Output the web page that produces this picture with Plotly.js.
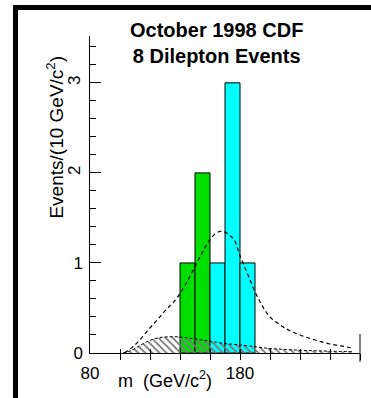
<!DOCTYPE html>
<html>
<head>
<meta charset="utf-8">
<script src="https://cdn.plot.ly/plotly-3.0.1.min.js"></script>
<style>
  html, body { margin: 0; padding: 0; background: #fff; overflow: hidden; }
  #chart { position: absolute; left: 0; top: 0; width: 371px; height: 398px; }
  #frame { position: absolute; left: 13px; top: 5px; width: 400px; height: 420px;
           border-left: 5px solid #000; border-top: 5px solid #000; pointer-events: none; }
</style>
</head>
<body>
<div id="chart"></div>
<div id="frame"></div>
<script>
// Histogram bins (GeV/c^2) and event counts
const greenBins = [145, 155];
const greenCounts = [1, 2];
const cyanBins = [165, 175, 185];
const cyanCounts = [1, 3, 1];
const binWidth = 10;

// Expected signal + background (dashed curve)
const totalMass = [103, 108, 113, 120, 125, 129, 133, 137, 140, 145, 150, 155, 160, 164, 167, 169, 172, 176, 180, 185, 190, 195, 200, 207, 213, 220, 227, 233, 240, 247, 255];
const totalExp  = [0, 0.06, 0.14, 0.28, 0.37, 0.45, 0.52, 0.59, 0.66, 0.80, 0.96, 1.12, 1.26, 1.33, 1.35, 1.35, 1.32, 1.26, 1.08, 0.88, 0.68, 0.52, 0.40, 0.31, 0.25, 0.20, 0.16, 0.13, 0.10, 0.08, 0.055];

// Expected background (hatched)
const bgMass = [102, 106, 110, 115, 120, 126, 132, 138, 144, 150, 156, 162, 170, 180, 190, 200, 210, 220, 230, 240, 255];
const bgExp  = [0, 0.02, 0.05, 0.10, 0.14, 0.17, 0.18, 0.18, 0.17, 0.155, 0.14, 0.125, 0.105, 0.09, 0.07, 0.05, 0.04, 0.03, 0.025, 0.02, 0.015];

// Axis ticks
const xTicks = [100, 120, 140, 160, 180, 200, 220, 240, 260];
const xLabelVals = [80, 180];
const xLabelText = ['80', '180'];
const yMinorTicks = [0, 0.2, 0.4, 0.6, 0.8, 1, 1.2, 1.4, 1.6, 1.8, 2, 2.2, 2.4, 2.6, 2.8, 3, 3.2, 3.4];
const yMajorTicks = [0, 1, 2, 3];
const yMajorText = ['0', '1', '', ''];
const yRotVals = [2, 3];
const yRotText = ['2', '3'];

const FONT = 'Liberation Sans, Arial, Helvetica, sans-serif';
const xRange = [80, 260];
const yRange = [0, 3.52];

// empty helper traces so that the overlaying tick/label axes get drawn
function axisHolder(xa, ya) {
  return { type: 'scatter', mode: 'markers', x: [], y: [], xaxis: xa, yaxis: ya, hoverinfo: 'skip', showlegend: false };
}

const traces = [
  { type: 'bar', x: greenBins, y: greenCounts, width: binWidth,
    marker: { color: '#00e000', line: { color: '#000', width: 1 } },
    xaxis: 'x', yaxis: 'y', hoverinfo: 'skip' },
  { type: 'bar', x: cyanBins, y: cyanCounts, width: binWidth,
    marker: { color: '#00ffff', line: { color: '#000', width: 1 } },
    xaxis: 'x', yaxis: 'y', hoverinfo: 'skip' },
  { type: 'scatter', mode: 'lines', x: bgMass, y: bgExp, fill: 'tozeroy',
    fillcolor: 'rgba(0,0,0,0)',
    fillpattern: { shape: '\\', fgcolor: '#7a7a7a', bgcolor: 'rgba(0,0,0,0)', size: 5, solidity: 0.35 },
    line: { color: '#000', width: 1, dash: '3px,2px', shape: 'spline' },
    xaxis: 'x', yaxis: 'y', hoverinfo: 'skip' },
  { type: 'scatter', mode: 'lines', x: totalMass, y: totalExp,
    line: { color: '#000', width: 1.2, dash: '4px,3px', shape: 'spline' },
    xaxis: 'x', yaxis: 'y', hoverinfo: 'skip' },
  axisHolder('x2', 'y'),
  axisHolder('x3', 'y'),
  axisHolder('x', 'y2'),
  axisHolder('x', 'y3')
];

const baseX = { range: xRange, autorange: false, showgrid: false, zeroline: false, fixedrange: true };
const baseY = { range: yRange, autorange: false, showgrid: false, zeroline: false, fixedrange: true };

const layout = {
  width: 371, height: 398,
  margin: { l: 90, r: 11, t: 36, b: 45, pad: 0 },
  paper_bgcolor: '#fff', plot_bgcolor: '#fff',
  showlegend: false,
  barmode: 'overlay',
  font: { family: FONT, color: '#000', size: 17 },
  xaxis: Object.assign({}, baseX, {
    showline: true, linecolor: '#000', linewidth: 1,
    tickmode: 'array', tickvals: xTicks, ticks: 'outside', ticklen: 6, tickwidth: 1, tickcolor: '#000',
    showticklabels: false
  }),
  xaxis2: Object.assign({}, baseX, {
    overlaying: 'x', anchor: 'y', side: 'bottom', showline: false,
    tickmode: 'array', tickvals: xTicks, ticks: 'inside', ticklen: 4, tickwidth: 1, tickcolor: '#000',
    showticklabels: false
  }),
  xaxis3: Object.assign({}, baseX, {
    overlaying: 'x', anchor: 'y', side: 'bottom', showline: false,
    tickmode: 'array', tickvals: xLabelVals, ticktext: xLabelText, ticks: '',
    ticklabelstandoff: 8, tickfont: { family: FONT, size: 17, color: '#000' }
  }),
  yaxis: Object.assign({}, baseY, {
    showline: true, linecolor: '#000', linewidth: 1,
    tickmode: 'array', tickvals: yMinorTicks, ticks: 'inside', ticklen: 6, tickwidth: 1, tickcolor: '#000',
    showticklabels: false
  }),
  yaxis2: Object.assign({}, baseY, {
    overlaying: 'y', anchor: 'x', side: 'left', showline: false,
    tickmode: 'array', tickvals: yMajorTicks, ticktext: yMajorText, ticks: 'inside', ticklen: 11, tickwidth: 1, tickcolor: '#000',
    ticklabelstandoff: 6, tickfont: { family: FONT, size: 17, color: '#000' }
  }),
  yaxis3: Object.assign({}, baseY, {
    overlaying: 'y', anchor: 'x', side: 'left', showline: false,
    tickmode: 'array', tickvals: yRotVals, ticktext: yRotText, ticks: '', tickangle: -90,
    ticklabelstandoff: 6, tickfont: { family: FONT, size: 17, color: '#000' }
  }),
  shapes: [
    { type: 'line', xref: 'paper', yref: 'paper', x0: 1, x1: 1, y0: -0.028, y1: 0.06,
      line: { color: '#000', width: 1 } }
  ],
  annotations: [
    { text: '<b>October 1998 CDF</b><br><b>8 Dilepton Events</b>', xref: 'paper', yref: 'paper',
      x: 0.467, y: 1.06, xanchor: 'center', yanchor: 'top', showarrow: false, align: 'center',
      font: { family: FONT, size: 20, color: '#000' } },
    { text: 'Events/(10 GeV/c<sup>2</sup>)', xref: 'paper', yref: 'paper',
      x: -0.128, y: 0.681, xanchor: 'center', yanchor: 'middle', textangle: -90, showarrow: false,
      font: { family: FONT, size: 19, color: '#000' } },
    { text: 'm  (GeV/c<sup>2</sup>)', xref: 'paper', yref: 'paper',
      x: 0.278, y: -0.085, xanchor: 'center', yanchor: 'middle', showarrow: false,
      font: { family: FONT, size: 18, color: '#000' } }
  ]
};

Plotly.newPlot('chart', traces, layout, { staticPlot: true, displayModeBar: false });
</script>
</body>
</html>
